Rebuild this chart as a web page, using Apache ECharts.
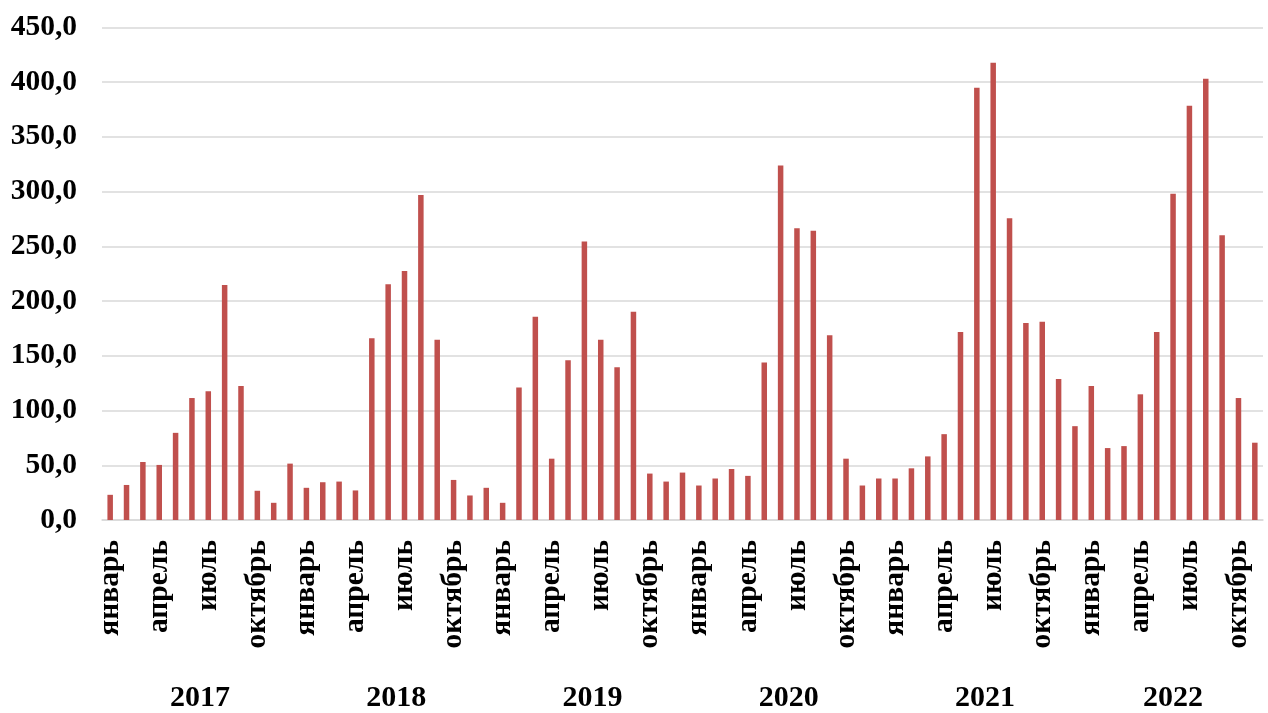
<!DOCTYPE html>
<html>
<head>
<meta charset="utf-8">
<script src="https://cdn.jsdelivr.net/npm/echarts@6/dist/echarts.min.js"></script>
<style>
html,body{margin:0;padding:0;background:#fff;}
#chart{width:1268px;height:713px;}
</style>
</head>
<body>
<div id="chart"></div>
<script>
const monthNames = ['январь','февраль','март','апрель','май','июнь','июль','август','сентябрь','октябрь','ноябрь','декабрь'];
const years = ['2017','2018','2019','2020','2021','2022'];
const v2017 = [23.0, 32.0, 53.0, 50.3, 79.6, 111.4, 117.5, 214.7, 122.3, 26.7, 15.7, 51.5];
const v2018 = [29.4, 34.5, 35.1, 27.0, 166.0, 215.3, 227.4, 296.8, 164.7, 36.6, 22.4, 29.4];
const v2019 = [15.7, 121.1, 185.6, 56.0, 146.0, 254.4, 164.7, 139.6, 190.2, 42.4, 35.1, 43.3];
const v2020 = [31.5, 37.9, 46.6, 40.3, 143.9, 323.7, 266.5, 264.1, 168.7, 56.0, 31.5, 37.9];
const v2021 = [37.9, 47.2, 58.1, 78.4, 171.7, 394.9, 417.6, 275.6, 179.9, 181.1, 128.7, 85.7];
const v2022 = [122.3, 65.7, 67.5, 114.8, 171.7, 298.0, 378.3, 403.1, 260.1, 111.4, 70.6];
const yTicks = [0, 50, 100, 150, 200, 250, 300, 350, 400, 450];

const yearSeries = [v2017, v2018, v2019, v2020, v2021, v2022];
const categories = [];
const values = [];
const yearCenters = [];
let start = 0;
yearSeries.forEach((arr, yi) => {
  arr.forEach((v, mi) => {
    categories.push(monthNames[mi] + ' ' + years[yi]);
    values.push(v);
  });
  yearCenters.push(start + arr.length / 2);
  start += arr.length;
});
const total = values.length;

const FONT = "'Liberation Serif', 'Times New Roman', serif";
const chart = echarts.init(document.getElementById('chart'));
chart.setOption({
  animation: false,
  backgroundColor: '#ffffff',
  grid: { left: 102, right: 5, top: 27.3, bottom: 190.3, containLabel: false },
  xAxis: [
    {
      type: 'category',
      data: categories,
      axisLine: { show: true, lineStyle: { color: '#d9d9d9', width: 1.5 } },
      axisTick: { show: false },
      axisLabel: {
        interval: 2,
        rotate: 90,
        margin: 20,
        color: '#000',
        fontFamily: FONT,
        fontWeight: 'bold',
        fontSize: 29.5,
        formatter: (val) => val.split(' ')[0]
      },
      splitLine: { show: false }
    },
    {
      type: 'value',
      position: 'bottom',
      offset: 153,
      min: 0,
      max: total,
      axisLine: { show: false },
      axisTick: { show: false },
      splitLine: { show: false },
      axisLabel: {
        customValues: yearCenters,
        margin: 10,
        color: '#000',
        fontFamily: FONT,
        fontWeight: 'bold',
        fontSize: 30,
        formatter: (val) => {
          const i = yearCenters.findIndex(c => Math.abs(c - val) < 1e-6);
          return i >= 0 ? years[i] : '';
        }
      }
    }
  ],
  yAxis: {
    type: 'value',
    min: yTicks[0],
    max: yTicks[yTicks.length - 1],
    interval: yTicks[1] - yTicks[0],
    axisLine: { show: false },
    axisTick: { show: false },
    splitLine: { show: true, lineStyle: { color: '#d9d9d9', width: 1.5 } },
    axisLabel: {
      margin: 25,
      color: '#000',
      fontFamily: FONT,
      fontWeight: 'bold',
      fontSize: 29.5,
      formatter: (v) => v.toFixed(1).replace('.', ',')
    }
  },
  series: [{
    type: 'bar',
    xAxisIndex: 0,
    data: values,
    barWidth: 5.5,
    itemStyle: { color: '#C0504D' }
  }]
});
</script>
</body>
</html>
